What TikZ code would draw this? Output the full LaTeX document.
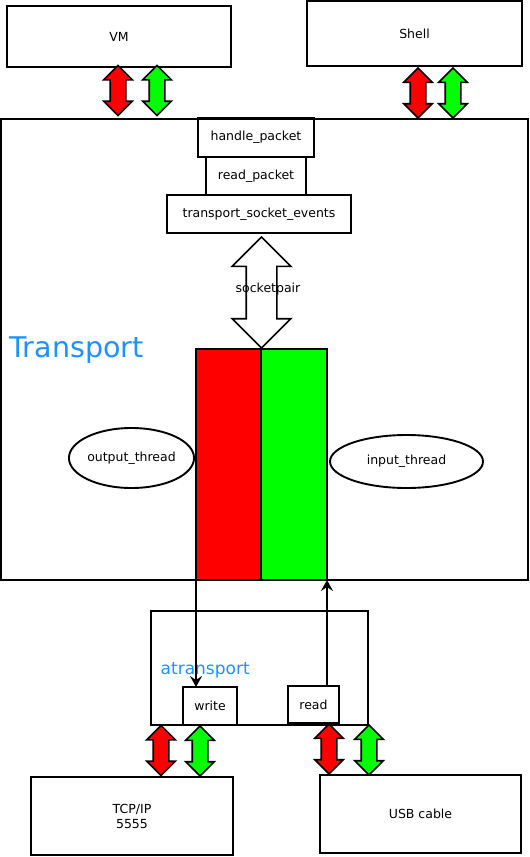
\documentclass[tikz,border=0pt]{standalone}
\usepackage{fontspec}
\setmainfont{DejaVu Sans}
\usetikzlibrary{positioning, arrows.meta, shapes.arrows, shapes.geometric}
\definecolor{tblue}{RGB}{30,144,255}
\tikzset{%
  eda/.style={-{Stealth[length=11pt, width=12pt, inset=4pt]}, line width=1.8pt},
  bx/.style={draw, line width=1.9pt, outer sep=0pt, inner sep=0pt, font=\fontsize{12.5}{15}\selectfont},
  el/.style={bx, ellipse},
  da/.style={draw, line width=1.7pt, shape=double arrow, rotate=90, inner xsep=0pt, inner ysep=7pt,
    double arrow head extend=6.5pt, minimum height=50pt},
  dr/.style={da, fill=red},
  dg/.style={da, fill=green},
  lb/.style={text=tblue, anchor=base west, inner sep=0pt}
}
\begin{document}
\begin{tikzpicture}[x=1pt, y=-1pt]
        \useasboundingbox (0,0) rectangle (530,857);
        \node[bx, minimum width=527, minimum height=461] (tr) at (264.5,349.5) {};
        \node[bx, minimum width=224, minimum height=61]  (vm) at (119,36.5)    {VM};
        \node[bx, minimum width=215, minimum height=65]  (sh) at (414.5,33.5)  {Shell};
        \node[bx, minimum width=116, minimum height=39]  (hp) at (256,137.5)   {handle\_packet};
        \node[bx, minimum width=100, minimum height=38]  (rp) [below = 0pt of hp] {read\_packet};
        \node[bx, minimum width=184, minimum height=38]  (ts) [below = 0pt of rp, xshift=3pt] {transport\_socket\_events};
        \node[bx, fill=red,   minimum width=65, minimum height=231] (ot) at (228.5,464.5) {};
        \node[bx, fill=green, minimum width=66, minimum height=231] (it) [right = 0pt of ot] {};
        \node[el, minimum width=123, minimum height=60] (oe) at (131.5,458)   {output\_thread};
        \node[el, minimum width=153, minimum height=53] (ie) at (406.5,461.5) {input\_thread};
        \node[lb, font=\fontsize{28.5}{32}\selectfont] (trl) at (9.5,357) {Transport};
        % socketpair
        \node[draw, line width=1.7pt, shape=double arrow, rotate=90, inner xsep=0pt, inner ysep=14.5pt,
          double arrow head extend=14pt, minimum height=111pt] (sp) at (261.5,292.5) {};
        \node[font=\fontsize{12.5}{15}\selectfont] (spl) at (268,289) {socketpair};
        % atransport
        \node[bx, minimum width=217, minimum height=114] (at) at (259.5,668) {};
        \node[lb, font=\fontsize{17}{20}\selectfont] (atl) at (160.5,674) {atransport};
        \node[bx, minimum width=54, minimum height=38] (wr) at (210,706)   {write};
        \node[bx, minimum width=51, minimum height=37] (rd) at (313.5,704.5) {read};
        \node[bx, minimum width=202, minimum height=78, align=center] (tcp) at (132,816) {TCP/IP\\5555};
        \node[bx, minimum width=201, minimum height=78] (usb) at (420.5,814) {USB cable};
        % double arrows
        \node[dr] (vr) at (118,90.5) {};
        \node[dg] (vg) at (157,90.5) {};
        \node[dr] (sr) at (418,93)   {};
        \node[dg] (sg) at (453,93)   {};
        \node[dr] (tcr) at (161,750.5) {};
        \node[dg] (tcg) at (200,751)   {};
        \node[dr] (ur) at (329,749)    {};
        \node[dg] (ug) at (369,750)    {};
        \draw[eda] (ot.south west) -- (ot.south west |- wr.north);
        \draw[eda] (it.south east |- rd.north) -- (it.south east);
      \end{tikzpicture}
\end{document}
